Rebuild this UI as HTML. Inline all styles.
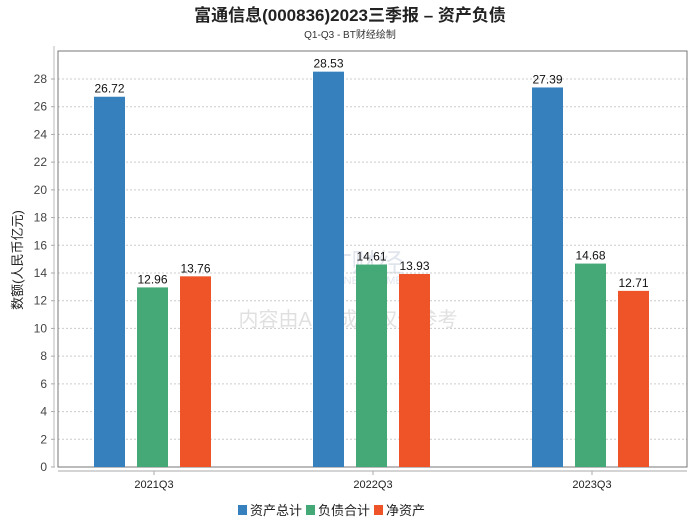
<!DOCTYPE html>
<html><head><meta charset="utf-8"><style>
body{margin:0;background:#fff;}
svg text{font-family:"Liberation Sans","Noto Sans CJK SC",sans-serif;}
</style></head><body>
<svg id="c" width="700" height="524" xmlns="http://www.w3.org/2000/svg">
<text x="350" y="21" text-anchor="middle" font-size="17" font-weight="bold" fill="#222">富通信息(000836)2023三季报 – 资产负债</text>
<text x="350" y="38" text-anchor="middle" font-size="10" fill="#333">Q1-Q3 - BT财经绘制</text>
<g opacity="0.25">
<text x="318" y="272" font-size="26" font-family="Liberation Serif,serif" fill="#8899bb">BT财经</text>
<text x="318" y="284" font-size="11" fill="#8899bb">BUSINESS TIMES</text>
<text x="348" y="326" text-anchor="middle" font-size="20" fill="#888">内容由AI生成，仅供参考</text>
</g>
<g id="plot"></g>
<text transform="translate(22,260) rotate(-90)" text-anchor="middle" font-size="13" fill="#222">数额(人民币亿元)</text>
</svg>
<script>
const categories=["2021Q3","2022Q3","2023Q3"];
const seriesNames=["资产总计","负债合计","净资产"];
const colors=["#3680be","#45a977","#ef5429"];
const totalAssets=[26.72,28.53,27.39];
const totalLiab=[12.96,14.61,14.68];
const netAssets=[13.76,13.93,12.71];
const yTicks=[0,2,4,6,8,10,12,14,16,18,20,22,24,26,28];
const series=[totalAssets,totalLiab,netAssets];
const NS="http://www.w3.org/2000/svg";
const g=document.getElementById('plot');
const L=58,R=687,T=51,B=467;
const y=v=>B-v*(388/28);
const x=i=>154+219*i;
const off=[-44.5,-1.5,41.5],bw=31;
function mk(t,a){const e=document.createElementNS(NS,t);for(const k in a)e.setAttribute(k,a[k]);g.appendChild(e);return e;}
yTicks.forEach(v=>{
  if(v>0){const l=mk('line',{x1:L,x2:R,y1:y(v),y2:y(v),stroke:'#ccc','stroke-dasharray':'2,2'});
  
  }
  const t=mk('text',{x:47,y:y(v)+4,'text-anchor':'end','font-size':12,fill:'#444'});t.textContent=v;
  
  
  mk('line',{x1:51,x2:55,y1:y(v),y2:y(v),stroke:'#aaa'});
});
const box=mk('rect',{x:L,y:T,width:R-L,height:B-T,fill:'none',stroke:'#777'});


mk('line',{x1:54,x2:54,y1:T-5,y2:B,stroke:'#bbb'});
mk('line',{x1:L,x2:R,y1:471,y2:471,stroke:'#aaa'});
categories.forEach((c,i)=>{
  mk('line',{x1:x(i),x2:x(i),y1:471,y2:475,stroke:'#aaa'});
  const t=mk('text',{x:x(i),y:488,'text-anchor':'middle','font-size':11,fill:'#222'});t.textContent=c;
  
  
  series.forEach((s,j)=>{
    const bx=x(i)+off[j]-bw/2;
    const r=mk('rect',{x:bx,y:y(s[i]),width:bw,height:B-y(s[i]),fill:colors[j]});
    
    
    const t2=mk('text',{x:bx+bw/2,y:y(s[i])-4,'text-anchor':'middle','font-size':12,fill:'#111'});t2.textContent=s[i].toFixed(2);
    
    
  });
});
let lx=238;
seriesNames.forEach((n,j)=>{
  const r=mk('rect',{x:lx,y:505,width:9,height:10,fill:colors[j]});
  
  
  const t=mk('text',{x:lx+12,y:515,'font-size':13,fill:'#222'});t.textContent=n;
  
  
  lx+=12+n.length*13+4;
});
</script>
</body></html>
